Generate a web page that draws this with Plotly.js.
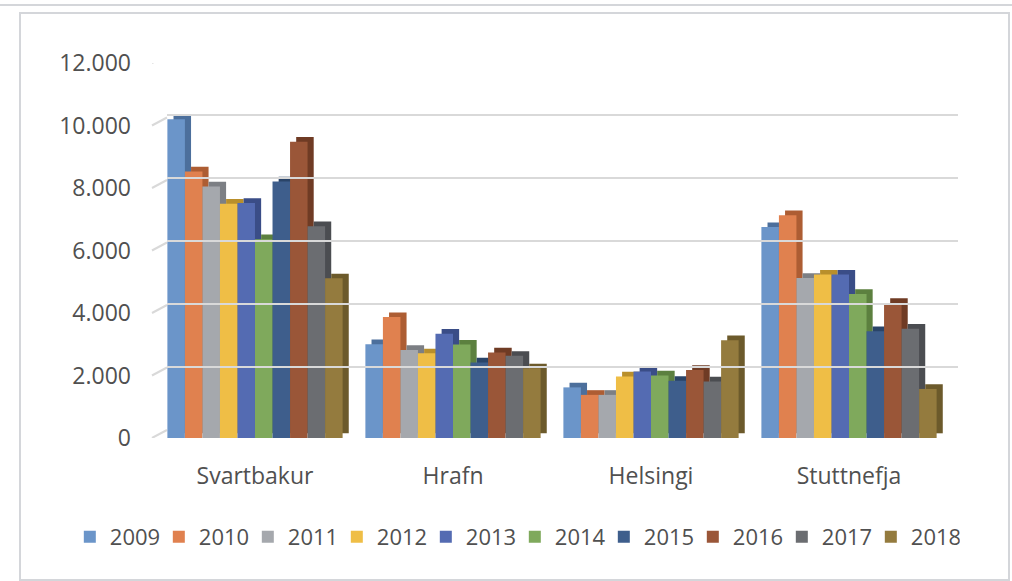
<!DOCTYPE html>
<html>
<head>
<meta charset="utf-8">
<script src="https://cdn.plot.ly/plotly-3.0.1.min.js"></script>
<style>
  html, body { margin: 0; padding: 0; background: #ffffff; }
  #wrap { position: relative; width: 1012px; height: 581px; overflow: hidden; }
  #chart { position: absolute; left: 0; top: 0; width: 1012px; height: 581px; }
  #topline { position: absolute; left: 0; top: 4px; width: 1012px; height: 0; border-top: 2px solid #d4d6da; }
  #frame { position: absolute; left: 19px; top: 12px; width: 987px; height: 565px; border: 2px solid #d4d6da; pointer-events: none; }
</style>
</head>
<body>
<div id="wrap">
  <div id="topline"></div>
  <div id="chart"></div>
  <div id="frame"></div>
</div>
<script>
// ---- Data ----
const categories = ["Svartbakur", "Hrafn", "Helsingi", "Stuttnefja"];
const years = ["2009", "2010", "2011", "2012", "2013", "2014", "2015", "2016", "2017", "2018"];
const v2009 = [10200, 3000, 1620, 6750];
const v2010 = [8530, 3870, 1380, 7130];
const v2011 = [8050, 2820, 1380, 5120];
const v2012 = [7500, 2710, 1970, 5230];
const v2013 = [7520, 3340, 2130, 5230];
const v2014 = [6360, 2990, 2000, 4610];
const v2015 = [8210, 2420, 1830, 3420];
const v2016 = [9480, 2740, 2180, 4320];
const v2017 = [6780, 2630, 1810, 3500];
const v2018 = [5110, 2230, 3130, 1570];
const seriesValues = [v2009, v2010, v2011, v2012, v2013, v2014, v2015, v2016, v2017, v2018];
const yTicks = [0, 2000, 4000, 6000, 8000, 10000, 12000];

// ---- Styles ----
const colors = ["#6b95c9", "#e0814f", "#a5a8ad", "#efbe46", "#546bb2",
                "#7fa95c", "#3e5e8c", "#9a5638", "#6b6d71", "#947b3e"];
const sideColors = ["#4c6f9c", "#ad5d33", "#7c7f84", "#b98f2b", "#3a4d87",
                    "#5c803f", "#2a4468", "#6f3b24", "#4b4d51", "#6c5a2b"];
const barW = 0.0885;
const depthX = 0.031;   // category units
const depthY = 150;     // value units
const textColor = "#505050";
const fontFam = "'Open Sans', 'Liberation Sans', sans-serif";

const traces = [];
seriesValues.forEach((vals, i) => {
  const off = -0.4425 + i * barW;
  traces.push({
    type: "bar", x: categories, y: vals, base: depthY,
    offset: off + depthX, width: barW,
    marker: { color: sideColors[i], line: { width: 0 } },
    showlegend: false, hoverinfo: "skip", xaxis: "x", yaxis: "y"
  });
  traces.push({
    type: "bar", name: years[i], x: categories, y: vals,
    offset: off, width: barW,
    marker: { color: colors[i], line: { width: 0 } },
    xaxis: "x", yaxis: "y"
  });
});
// dummy trace for the back-wall grid subplot
traces.push({ type: "scatter", x: [], y: [], xaxis: "x2", yaxis: "y2", showlegend: false, hoverinfo: "skip" });

// diagonal stubs joining front labels to the back wall
const shapes = yTicks.map(t => ({
  type: "line", xref: "paper", yref: "y",
  x0: 0.0987, y0: t, x1: 0.1148, y1: t + 256,
  line: { color: "#d9d9d9", width: 2 }, layer: "below"
}));

const layout = {
  width: 1012, height: 581,
  margin: { l: 60, r: 20, t: 50, b: 143 },
  paper_bgcolor: "rgba(0,0,0,0)", plot_bgcolor: "rgba(0,0,0,0)",
  separators: ",.",
  barmode: "overlay",
  font: { family: fontFam, color: textColor, size: 23 },
  xaxis: {
    domain: [0.1030, 0.9528], type: "category",
    showgrid: false, zeroline: false, showline: false, ticks: "",
    ticklabelstandoff: 22,
    tickfont: { family: fontFam, size: 23, color: textColor },
    fixedrange: true
  },
  yaxis: {
    domain: [0, 0.9665], range: [0, 12000],
    tickvals: yTicks, tickformat: ",d",
    showgrid: false, zeroline: false, showline: false, ticks: "",
    ticklabelstandoff: 24,
    tickfont: { family: fontFam, size: 23, color: textColor },
    fixedrange: true
  },
  xaxis2: {
    domain: [0.1148, 0.9635], anchor: "y2", range: [0, 1],
    showgrid: false, zeroline: false, showline: false, showticklabels: false, ticks: ""
  },
  yaxis2: {
    domain: [0.0206, 0.9948], anchor: "x2", range: [0, 12000],
    tickvals: yTicks, showgrid: true, gridcolor: "#d9d9d9", gridwidth: 2,
    zeroline: false, showline: false, showticklabels: false, ticks: ""
  },
  shapes: shapes,
  legend: {
    orientation: "h", x: 0.488, xanchor: "center", y: -0.255, yanchor: "middle",
    font: { family: fontFam, size: 22, color: textColor },
    entrywidth: 44, entrywidthmode: "pixels",
    itemclick: false, itemdoubleclick: false, traceorder: "normal"
  },
  showlegend: true
};

Plotly.newPlot("chart", traces, layout, { displayModeBar: false, staticPlot: true });
</script>
</body>
</html>
